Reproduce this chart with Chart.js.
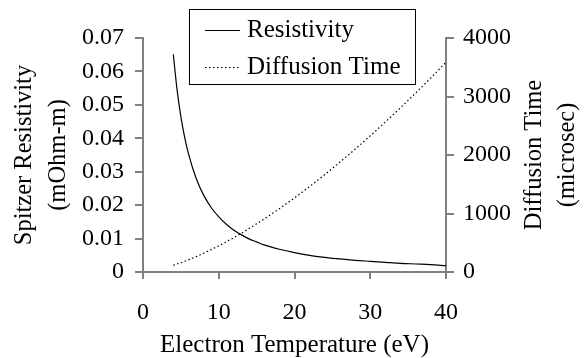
<!DOCTYPE html>
<html>
<head>
<meta charset="utf-8">
<script src="https://cdn.jsdelivr.net/npm/chart.js@4.4.0/dist/chart.umd.min.js"></script>
<style>
html,body{margin:0;padding:0;background:#fff;}
canvas{display:block;}
</style>
</head>
<body>
<canvas id="c" width="587" height="358"></canvas>
<script>
// Electron temperature (eV)
const temperature = [4, 4.5, 5, 5.5, 6, 7, 8, 9, 10, 11, 12, 13, 14, 15, 16, 18, 20, 22, 24, 26, 28, 30, 32, 34, 36, 38, 40];
// Spitzer resistivity (mOhm-m), left axis
const resistivity = [0.0651, 0.0545, 0.0465, 0.0403, 0.0354, 0.0281, 0.0230, 0.0193, 0.0165, 0.0143, 0.0125, 0.0111, 0.0099, 0.0090, 0.0081, 0.0068, 0.0058, 0.0050, 0.0044, 0.0039, 0.0035, 0.0032, 0.0029, 0.0026, 0.0024, 0.0022, 0.0019];
// Diffusion time (microsec), right axis
const diffusionTime = [115, 137, 158, 183, 208, 262, 321, 383, 448, 517, 589, 664, 742, 823, 907, 1082, 1267, 1462, 1666, 1879, 2099, 2328, 2565, 2809, 3061, 3319, 3585];

const xTicks = [0, 10, 20, 30, 40];
const leftTicks = [0, 0.01, 0.02, 0.03, 0.04, 0.05, 0.06, 0.07];
const leftTickLabels = ['0', '0.01', '0.02', '0.03', '0.04', '0.05', '0.06', '0.07'];
const rightTicks = [0, 1000, 2000, 3000, 4000];
const rightTickLabels = ['0', '1000', '2000', '3000', '4000'];

const seriesNames = ['Resistivity', 'Diffusion Time'];
const xTitle = 'Electron Temperature (eV)';
const leftTitle = ['Spitzer Resistivity', '(mOhm-m)'];
const rightTitle = ['Diffusion Time', '(microsec)'];

const FONT = 'Liberation Serif';
const AXIS = '#808080';

function pts(xs, ys) { return xs.map((x, i) => ({x: x, y: ys[i]})); }

const overlay = {
  id: 'overlay',
  afterDraw(chart) {
    const ctx = chart.ctx;
    const area = chart.chartArea;
    ctx.save();
    // right axis title (reads bottom-to-top)
    ctx.fillStyle = '#000';
    ctx.font = '24.5px "' + FONT + '"';
    ctx.textAlign = 'center';
    ctx.textBaseline = 'middle';
    const cy = (area.top + area.bottom) / 2;
    const xs = [535, 568];
    rightTitle.forEach((t, i) => {
      ctx.save();
      ctx.translate(xs[i], cy);
      ctx.rotate(-Math.PI / 2);
      ctx.fillText(t, 0, 0);
      ctx.restore();
    });
    // legend
    ctx.strokeStyle = '#000';
    ctx.lineWidth = 1;
    ctx.setLineDash([]);
    ctx.strokeRect(189.5, 9.5, 226, 75);
    const ly = [30.5, 67.5];
    ctx.lineWidth = 1.2;
    ctx.beginPath(); ctx.moveTo(205, ly[0]); ctx.lineTo(240, ly[0]); ctx.stroke();
    ctx.setLineDash([1.5, 2.5]);
    ctx.beginPath(); ctx.moveTo(205, ly[1]); ctx.lineTo(240, ly[1]); ctx.stroke();
    ctx.setLineDash([]);
    ctx.font = '25px "' + FONT + '"';
    ctx.textAlign = 'left';
    ctx.fillText(seriesNames[0], 247, 30);
    ctx.fillText(seriesNames[1], 247, 67);
    ctx.restore();
  }
};

new Chart(document.getElementById('c'), {
  type: 'line',
  data: {
    datasets: [
      {
        label: seriesNames[0],
        data: pts(temperature, resistivity),
        yAxisID: 'y',
        borderColor: '#000',
        borderWidth: 1.2,
        pointRadius: 0,
        fill: false,
        cubicInterpolationMode: 'monotone'
      },
      {
        label: seriesNames[1],
        data: pts(temperature, diffusionTime),
        yAxisID: 'y2',
        borderColor: '#000',
        borderWidth: 1.2,
        borderDash: [1.5, 2.5],
        pointRadius: 0,
        fill: false,
        cubicInterpolationMode: 'monotone'
      }
    ]
  },
  options: {
    responsive: false,
    animation: false,
    events: [],
    layout: { padding: { top: 38, left: 0, right: 0, bottom: 0 } },
    plugins: { legend: { display: false }, tooltip: { enabled: false } },
    scales: {
      x: {
        type: 'linear',
        position: 'bottom',
        min: 0, max: 40,
        afterBuildTicks: s => { s.ticks = xTicks.map(v => ({value: v})); },
        afterFit: s => { s.height = 86; },
        ticks: {
          font: { family: FONT, size: 24 },
          color: '#000',
          padding: 19,
          maxRotation: 0,
          autoSkip: false,
          callback: v => String(v)
        },
        grid: { drawOnChartArea: false, drawTicks: true, tickLength: 7, color: AXIS, lineWidth: 2 },
        border: { display: true, color: AXIS, width: 2 },
        title: {
          display: true,
          text: xTitle,
          color: '#000',
          font: { family: FONT, size: 25, lineHeight: '26px' },
          padding: { top: 0, bottom: 0 }
        }
      },
      y: {
        type: 'linear',
        position: 'left',
        min: 0, max: 0.07,
        afterBuildTicks: s => { s.ticks = leftTicks.map(v => ({value: v})); },
        afterFit: s => { s.width = 143; },
        ticks: {
          font: { family: FONT, size: 24 },
          color: '#000',
          padding: 11,
          autoSkip: false,
          callback: (v, i) => leftTickLabels[i]
        },
        grid: { drawOnChartArea: false, drawTicks: true, tickLength: 8, color: AXIS, lineWidth: 2 },
        border: { display: true, color: AXIS, width: 2 },
        title: {
          display: true,
          text: leftTitle,
          color: '#000',
          font: { family: FONT, size: 24.5, lineHeight: '34px' },
          padding: { top: 8, bottom: 0 }
        }
      },
      y2: {
        type: 'linear',
        position: 'right',
        min: 0, max: 4000,
        afterBuildTicks: s => { s.ticks = rightTicks.map(v => ({value: v})); },
        afterFit: s => { s.width = 141; },
        ticks: {
          font: { family: FONT, size: 24 },
          color: '#000',
          padding: 9,
          autoSkip: false,
          callback: (v, i) => rightTickLabels[i]
        },
        grid: { drawOnChartArea: false, drawTicks: true, tickLength: 8, color: AXIS, lineWidth: 2 },
        border: { display: true, color: AXIS, width: 2 },
        title: { display: false }
      }
    }
  },
  plugins: [overlay]
});
</script>
</body>
</html>
